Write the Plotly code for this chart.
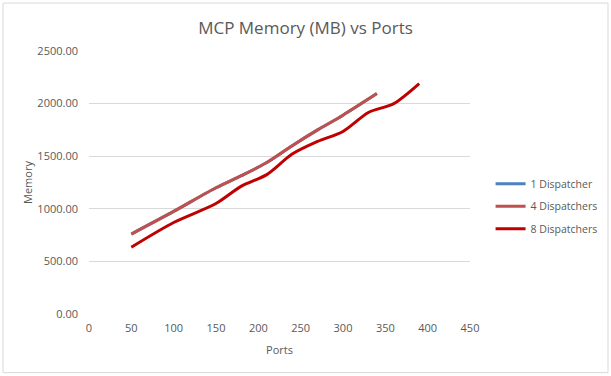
import plotly.graph_objects as go

ports_4 = [50, 100, 150, 180, 210, 240, 270, 300, 340]
mem_1 = [760, 975, 1200, 1315, 1440, 1600, 1750, 1890, 2095]
mem_4 = [760, 975, 1200, 1315, 1440, 1600, 1750, 1890, 2095]
ports_8 = [50, 100, 150, 180, 210, 240, 270, 300, 330, 360, 390]
mem_8 = [635, 870, 1050, 1215, 1325, 1520, 1640, 1735, 1915, 2000, 2190]

x_ticks = [0, 50, 100, 150, 200, 250, 300, 350, 400, 450]
y_ticks = [0, 500, 1000, 1500, 2000, 2500]

FONT = "Open Sans"
GREY = "#595959"

fig = go.Figure()
fig.add_trace(go.Scatter(x=ports_4, y=mem_1, name="1 Dispatcher", mode="lines", legendgroup="a",
                         line=dict(color="#4F81BD", width=3, shape="spline", smoothing=0.8)))
fig.add_trace(go.Scatter(x=ports_4, y=mem_4, name="4 Dispatchers", mode="lines", legendgroup="b",
                         line=dict(color="#C0504D", width=3, shape="spline", smoothing=0.8)))
fig.add_trace(go.Scatter(x=ports_8, y=mem_8, name="8 Dispatchers", mode="lines", legendgroup="c",
                         line=dict(color="#C00000", width=3, shape="spline", smoothing=0.8)))

fig.update_layout(
    width=611, height=376,
    margin=dict(l=89, r=141, t=51, b=62, autoexpand=False),
    paper_bgcolor="white", plot_bgcolor="white",
    font=dict(family=FONT, size=11, color=GREY),
    title=dict(text="MCP Memory (MB) vs Ports", x=0.5, xanchor="center",
               y=0.925, yanchor="middle",
               font=dict(family=FONT, size=17, color=GREY)),
    xaxis=dict(range=[0, 450], tickvals=x_ticks, showgrid=False, zeroline=False,
               showline=False, ticks="", tickfont=dict(size=11, color=GREY),
               automargin=False, ticklabelstandoff=6,
               title=dict(text="Ports", font=dict(size=11, color=GREY), standoff=12)),
    yaxis=dict(range=[0, 2500], tickvals=y_ticks, tickformat=".2f", showgrid=True,
               gridcolor="#D9D9D9", gridwidth=1, zeroline=False, showline=False,
               ticks="", tickfont=dict(size=11, color=GREY),
               automargin=False, ticklabelstandoff=10,
               title=dict(text="Memory", font=dict(size=11, color=GREY), standoff=2)),
    legend=dict(x=1.054, y=0.55, xanchor="left", yanchor="top",
                font=dict(size=10.5, color=GREY), bgcolor="rgba(0,0,0,0)",
                itemwidth=30, tracegroupgap=3.5),
    showlegend=True,
)

fig.add_shape(type="rect", xref="paper", yref="paper",
              x0=(3 - 89) / 381, x1=(608 - 89) / 381,
              y0=(314.3 - 373) / 263.3, y1=(314.3 - 3) / 263.3,
              line=dict(color="#D9D9D9", width=1), fillcolor="rgba(0,0,0,0)", layer="below")

fig.write_html("out.html", config={"displayModeBar": False},
               post_script="document.body.style.margin='0';")
